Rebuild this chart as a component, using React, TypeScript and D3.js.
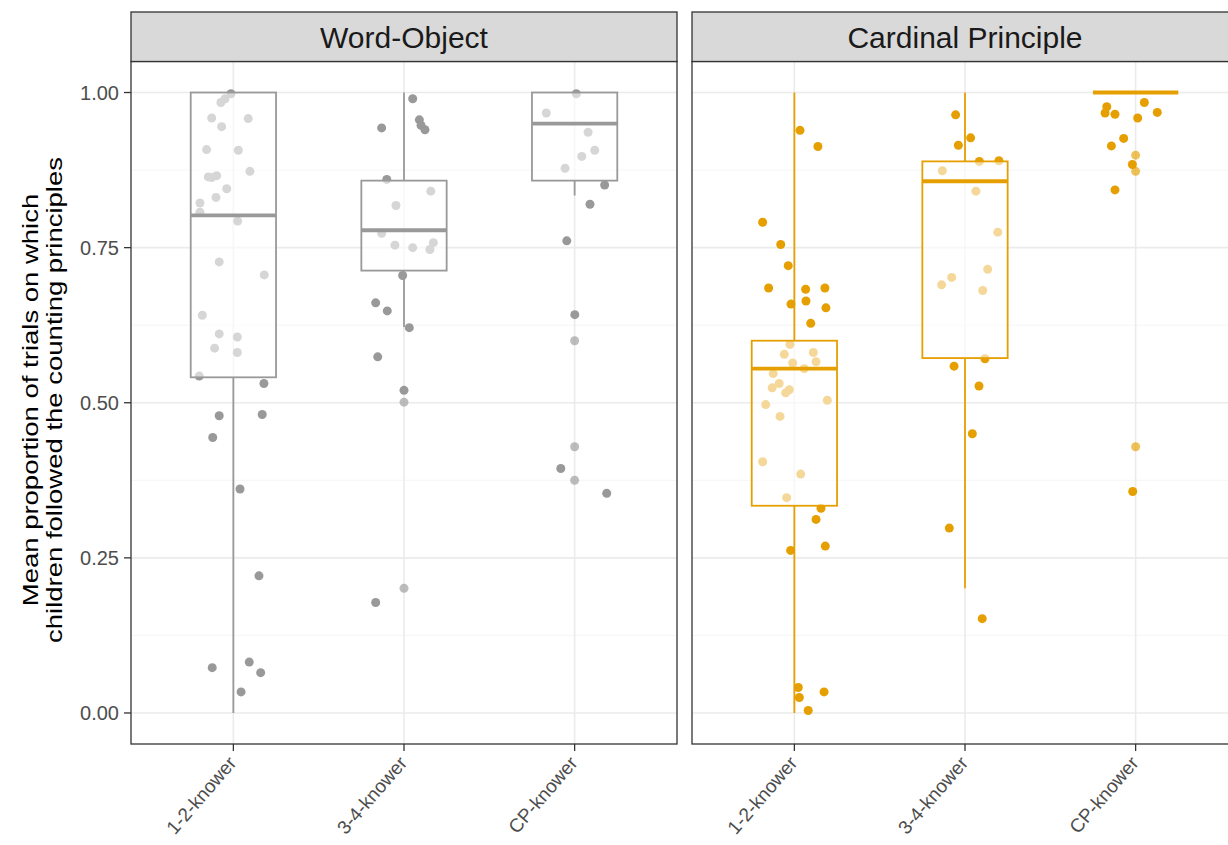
import React, { useEffect, useRef } from 'react';
import * as d3 from 'd3';

const categories = ['1-2-knower', '3-4-knower', 'CP-knower'];
const panels = ['Word-Object', 'Cardinal Principle'];
const panelColors = ['#999999', '#E69F00'];
const yTicks = [0, 0.25, 0.5, 0.75, 1];
const yMinor = [0.125, 0.375, 0.625, 0.875];

// box stats: [lower whisker, q1, median, q3, upper whisker]
const wordObjectBoxes = [
  [0, 0.541, 0.802, 1.0, 1.0],
  [0.622, 0.713, 0.778, 0.858, 1.0],
  [0.834, 0.858, 0.95, 1.0, 1.0],
];
const cardinalBoxes = [
  [0, 0.334, 0.555, 0.6, 1.0],
  [0.201, 0.572, 0.857, 0.889, 1.0],
  [1, 1, 1, 1, 1],
];

// jittered points: [jitter offset (category units), value]
const wo12 = [
  [-0.014, 0.998], [-0.049, 0.99], [-0.073, 0.984], [-0.127, 0.959], [0.087, 0.958],
  [-0.069, 0.945], [-0.157, 0.908], [0.029, 0.907], [0.097, 0.873], [-0.147, 0.864],
  [-0.127, 0.863], [-0.098, 0.866], [-0.039, 0.845], [-0.102, 0.831], [-0.196, 0.822],
  [-0.196, 0.807], [0.025, 0.793], [-0.083, 0.727], [0.181, 0.706], [-0.182, 0.641],
  [-0.083, 0.611], [0.023, 0.606], [-0.11, 0.588], [0.023, 0.581], [-0.2, 0.543],
  [0.179, 0.531], [-0.083, 0.479], [0.169, 0.481], [-0.121, 0.444], [0.039, 0.361],
  [0.15, 0.221], [-0.124, 0.073], [0.093, 0.082], [0.16, 0.065], [0.045, 0.034],
];
const wo34 = [
  [0.051, 0.99], [0.09, 0.956], [0.1, 0.947], [0.123, 0.94], [-0.131, 0.943],
  [-0.101, 0.86], [0.157, 0.841], [-0.047, 0.818], [-0.131, 0.773], [-0.053, 0.754],
  [0.051, 0.75], [0.172, 0.758], [0.152, 0.747], [-0.008, 0.705], [-0.166, 0.661],
  [-0.098, 0.648], [0.031, 0.621], [-0.154, 0.574], [0, 0.52], [-0.166, 0.178],
];
const woCP = [
  [0.01, 0.998], [-0.166, 0.967], [0.079, 0.936], [0.118, 0.907], [0.042, 0.897],
  [-0.056, 0.878], [0.176, 0.851], [0.09, 0.82], [-0.046, 0.761], [0.001, 0.642],
  [-0.081, 0.394], [0.188, 0.354],
];
const cp12 = [
  [0.033, 0.939], [0.138, 0.913], [-0.186, 0.791], [-0.08, 0.755], [-0.036, 0.721],
  [-0.151, 0.685], [0.066, 0.683], [0.179, 0.685], [-0.02, 0.659], [0.068, 0.664],
  [0.185, 0.653], [0.096, 0.628], [-0.026, 0.594], [-0.059, 0.578], [0.111, 0.581],
  [0.127, 0.566], [-0.01, 0.564], [0.058, 0.555], [-0.124, 0.547], [-0.089, 0.531],
  [-0.13, 0.524], [-0.03, 0.521], [-0.051, 0.516], [-0.168, 0.497], [0.193, 0.504],
  [-0.084, 0.478], [-0.186, 0.405], [0.037, 0.385], [-0.045, 0.347], [0.156, 0.33],
  [0.127, 0.312], [-0.022, 0.262], [0.181, 0.269], [0.023, 0.041], [0.029, 0.025],
  [0.174, 0.034], [0.081, 0.004],
];
const cp34 = [
  [-0.055, 0.964], [0.033, 0.927], [-0.039, 0.915], [0.084, 0.889], [0.199, 0.89],
  [-0.133, 0.874], [0.064, 0.841], [0.192, 0.775], [0.133, 0.715], [-0.078, 0.702],
  [-0.137, 0.69], [0.104, 0.681], [0.117, 0.571], [-0.064, 0.559], [0.082, 0.527],
  [0.043, 0.45], [-0.092, 0.298], [0.101, 0.152],
];
const cpCP = [
  [-0.169, 0.977], [-0.179, 0.967], [-0.121, 0.965], [0.051, 0.984], [0.127, 0.968],
  [0.012, 0.959], [-0.07, 0.926], [-0.142, 0.914], [-0.019, 0.884], [-0.121, 0.843],
  [-0.017, 0.357],
];

// boxplot outliers (drawn at category centre)
const woOutliers = [[], [0.501, 0.201], [0.6, 0.429, 0.375]];
const cpOutliers = [[], [], [0.899, 0.873, 0.429]];

const panelData = [
  { boxes: wordObjectBoxes, points: [wo12, wo34, woCP], outliers: woOutliers },
  { boxes: cardinalBoxes, points: [cp12, cp34, cpCP], outliers: cpOutliers },
];

const W = 1228;
const H = 845;
const panelLefts = [131, 692];
const panelW = 546;
const stripTop = 12;
const stripH = 49.5;
const panelTop = 61.5;
const panelBottom = 744;
const font = '"Liberation Sans", Arial, Helvetica, sans-serif';

function App() {
  const ref = useRef(null);

  useEffect(() => {
    drawChart();
  }, []);

  function drawChart() {
    const svg = d3.select(ref.current);
    svg.selectAll('*').remove();

    const y = d3.scaleLinear().domain([-0.05, 1.05]).range([panelBottom, panelTop]);

    panels.forEach((name, pi) => {
      const left = panelLefts[pi];
      const color = panelColors[pi];
      const data = panelData[pi];
      const x = d3.scaleLinear().domain([0.4, 3.6]).range([left, left + panelW]);
      const unit = x(1) - x(0);
      const g = svg.append('g');

      // panel background + grid
      g.append('rect')
        .attr('x', left).attr('y', panelTop)
        .attr('width', panelW).attr('height', panelBottom - panelTop)
        .attr('fill', '#ffffff');
      g.selectAll('.minor').data(yMinor).enter().append('line')
        .attr('x1', left).attr('x2', left + panelW)
        .attr('y1', (d) => y(d)).attr('y2', (d) => y(d))
        .attr('stroke', '#f2f2f2').attr('stroke-width', 0.8);
      g.selectAll('.major').data(yTicks).enter().append('line')
        .attr('x1', left).attr('x2', left + panelW)
        .attr('y1', (d) => y(d)).attr('y2', (d) => y(d))
        .attr('stroke', '#ebebeb').attr('stroke-width', 1.6);
      g.selectAll('.vmajor').data(categories).enter().append('line')
        .attr('x1', (_, i) => x(i + 1)).attr('x2', (_, i) => x(i + 1))
        .attr('y1', panelTop).attr('y2', panelBottom)
        .attr('stroke', '#ebebeb').attr('stroke-width', 1.6);

      // jittered points
      data.points.forEach((pts, ci) => {
        g.selectAll(null).data(pts).enter().append('circle')
          .attr('cx', (d) => x(ci + 1 + d[0]))
          .attr('cy', (d) => y(d[1]))
          .attr('r', 4.5)
          .attr('fill', color);
      });

      // boxes
      const bw = 0.5 * unit;
      data.boxes.forEach((b, ci) => {
        const cx = x(ci + 1);
        const [lo, q1, med, q3, hi] = b;
        g.append('line')
          .attr('x1', cx).attr('x2', cx).attr('y1', y(q3)).attr('y2', y(hi))
          .attr('stroke', color).attr('stroke-width', 1.8);
        g.append('line')
          .attr('x1', cx).attr('x2', cx).attr('y1', y(q1)).attr('y2', y(lo))
          .attr('stroke', color).attr('stroke-width', 1.8);
        g.append('rect')
          .attr('x', cx - bw / 2).attr('y', y(q3))
          .attr('width', bw).attr('height', y(q1) - y(q3))
          .attr('fill', '#ffffff').attr('fill-opacity', 0.6)
          .attr('stroke', color).attr('stroke-width', 1.8);
        g.append('line')
          .attr('x1', cx - bw / 2).attr('x2', cx + bw / 2)
          .attr('y1', y(med)).attr('y2', y(med))
          .attr('stroke', color).attr('stroke-width', 3.8);
        g.selectAll(null).data(data.outliers[ci]).enter().append('circle')
          .attr('cx', cx).attr('cy', (d) => y(d)).attr('r', 4.5)
          .attr('fill', color).attr('fill-opacity', 0.65);
      });

      // panel border
      g.append('rect')
        .attr('x', left).attr('y', panelTop)
        .attr('width', panelW).attr('height', panelBottom - panelTop)
        .attr('fill', 'none').attr('stroke', '#333333').attr('stroke-width', 1.3);

      // strip
      g.append('rect')
        .attr('x', left).attr('y', stripTop)
        .attr('width', panelW).attr('height', stripH)
        .attr('fill', '#d9d9d9').attr('stroke', '#333333').attr('stroke-width', 1.3);
      g.append('text')
        .attr('x', left + panelW / 2).attr('y', stripTop + stripH / 2)
        .attr('dy', '0.36em').attr('text-anchor', 'middle')
        .attr('font-family', font).attr('font-size', 30).attr('fill', '#1a1a1a')
        .text(name);

      // x axis ticks + labels
      categories.forEach((c, ci) => {
        const cx = x(ci + 1);
        g.append('line')
          .attr('x1', cx).attr('x2', cx).attr('y1', panelBottom).attr('y2', panelBottom + 7)
          .attr('stroke', '#333333').attr('stroke-width', 1.3);
        g.append('text')
          .attr('transform', `translate(${cx - 6}, ${panelBottom + 11}) rotate(-49)`)
          .attr('text-anchor', 'end').attr('dy', '0.7em')
          .attr('font-family', font).attr('font-size', 19).attr('fill', '#4d4d4d')
          .text(c);
      });
    });

    // y axis
    const ya = svg.append('g');
    ya.selectAll(null).data(yTicks).enter().append('line')
      .attr('x1', panelLefts[0] - 7).attr('x2', panelLefts[0])
      .attr('y1', (d) => y(d)).attr('y2', (d) => y(d))
      .attr('stroke', '#333333').attr('stroke-width', 1.3);
    ya.selectAll(null).data(yTicks).enter().append('text')
      .attr('x', panelLefts[0] - 12).attr('y', (d) => y(d))
      .attr('dy', '0.36em').attr('text-anchor', 'end')
      .attr('font-family', font).attr('font-size', 20).attr('fill', '#4d4d4d')
      .text((d) => d3.format('.2f')(d));

    const title = svg.append('text')
      .attr('transform', `translate(38, 400) rotate(-90) scale(1.25, 1)`)
      .attr('text-anchor', 'middle')
      .attr('font-family', font).attr('font-size', 22).attr('fill', '#000000');
    title.append('tspan').attr('x', 0).attr('dy', 0).text('Mean proportion of trials on which');
    title.append('tspan').attr('x', 0).attr('dy', 24).text('children followed the counting principles');
  }

  return (
    <svg
      ref={ref}
      width={W}
      height={H}
      style={{ position: 'absolute', left: 0, top: 0, background: '#ffffff' }}
    />
  );
}

export default App;
